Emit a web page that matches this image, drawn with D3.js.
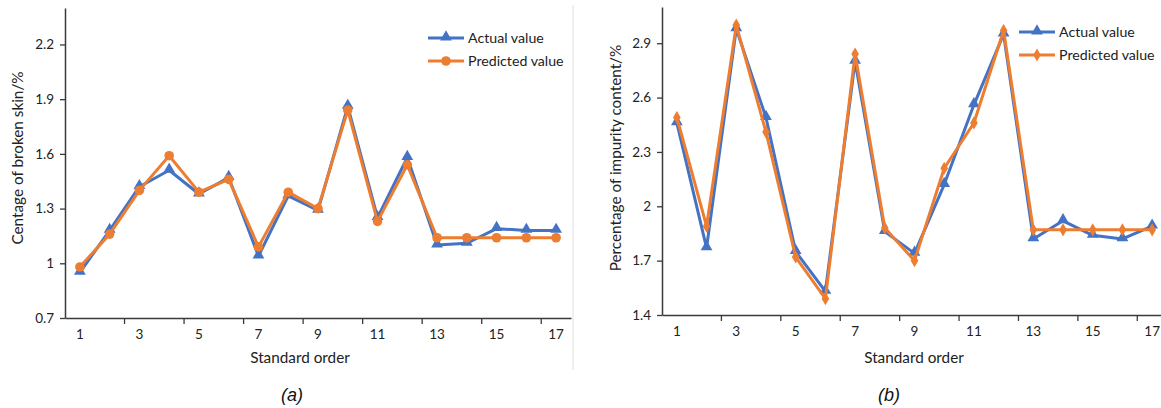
<!DOCTYPE html>
<html>
<head>
<meta charset="utf-8">
<script src="https://cdn.jsdelivr.net/npm/d3@7"></script>
<style>
  body { margin: 0; background: #fff; }
  svg { display: block; font-family: Lato, "Open Sans", sans-serif; }
</style>
</head>
<body>
<svg id="chart" width="1161" height="408"></svg>
<script>
// standard order 1..17
const orders = d3.range(1, 18);
const orderLabels = [1, 3, 5, 7, 9, 11, 13, 15, 17];

// (a) broken skin rate
const skinActual    = [0.95, 1.18, 1.42, 1.51, 1.38, 1.47, 1.04, 1.37, 1.29, 1.86, 1.25, 1.58, 1.10, 1.11, 1.19, 1.18, 1.18];
const skinPredicted = [0.98, 1.16, 1.40, 1.59, 1.39, 1.46, 1.09, 1.39, 1.30, 1.84, 1.23, 1.54, 1.14, 1.14, 1.14, 1.14, 1.14];
const skinTicks = [0.7, 1.0, 1.3, 1.6, 1.9, 2.2];

// (b) impurity content
const impActual    = [2.46, 1.77, 2.98, 2.49, 1.75, 1.53, 2.80, 1.86, 1.74, 2.12, 2.56, 2.95, 1.82, 1.92, 1.84, 1.82, 1.89];
const impPredicted = [2.49, 1.89, 3.00, 2.41, 1.72, 1.49, 2.84, 1.88, 1.70, 2.21, 2.46, 2.97, 1.87, 1.87, 1.87, 1.87, 1.87];
const impTicks = [1.4, 1.7, 2.0, 2.3, 2.6, 2.9];

const BLUE = '#4472c4', ORANGE = '#ed7d31', AXIS = '#3a3a3a', TEXT = '#222';

const svg = d3.select('#chart');

function marker(g, shape, color) {
  if (shape === 'circle') {
    g.append('circle').attr('r', 4.8).attr('fill', color);
  } else {
    const type = shape === 'triangle' ? d3.symbolTriangle : d3.symbolDiamond;
    const size = shape === 'triangle' ? 60 : 50;
    g.append('path').attr('d', d3.symbol().type(type).size(size)()).attr('fill', color)
      .attr('transform', shape === 'triangle' ? 'translate(0,-1)' : null);
  }
}

function drawChart(cfg) {
  const { left, right, top, bottom, domain, ticks, actual, predicted, predShape,
          yLabel, yLabelX, xLabelX, caption, captionX, legendX, legendY } = cfg;

  const x = d3.scaleBand().domain(orders).range([left, right]).padding(0);
  const y = d3.scaleLinear().domain(domain).range([bottom, top]);
  const g = svg.append('g');

  // y axis
  const yAxis = g.append('g').attr('transform', `translate(${left},0)`)
    .call(d3.axisLeft(y).tickValues(ticks).tickSize(5).tickSizeOuter(0).tickFormat(d => String(+d.toFixed(1))));
  yAxis.attr('font-family', null);
  yAxis.select('.domain').attr('stroke', AXIS).attr('stroke-width', 1.5);
  yAxis.selectAll('.tick line').attr('stroke', AXIS).attr('stroke-width', 1.3);
  yAxis.selectAll('.tick text').attr('fill', TEXT).attr('font-size', 13.5).attr('x', -11);

  // x axis: labels on odd orders, tick marks on every second category boundary
  const xAxis = g.append('g').attr('transform', `translate(0,${bottom})`)
    .call(d3.axisBottom(x).tickValues(orderLabels).tickSize(0).tickSizeOuter(0));
  xAxis.attr('font-family', null);
  xAxis.select('.domain').attr('stroke', AXIS).attr('stroke-width', 1.5);
  xAxis.selectAll('.tick text').attr('fill', TEXT).attr('font-size', 13.5).attr('y', 11).attr('dy', '0.71em');
  g.selectAll(null).data(orderLabels.slice(1)).enter().append('line')
    .attr('x1', d => x(d)).attr('x2', d => x(d))
    .attr('y1', bottom).attr('y2', bottom + 6)
    .attr('stroke', AXIS).attr('stroke-width', 1.3);

  g.append('text').attr('x', xLabelX).attr('y', 363)
    .attr('text-anchor', 'middle').attr('font-size', 15.3).attr('fill', TEXT).text('Standard order');
  g.append('text').attr('transform', `translate(${yLabelX},158) rotate(-90)`)
    .attr('text-anchor', 'middle').attr('font-size', 15.3).attr('fill', TEXT).text(yLabel);

  const line = d3.line().x((d, i) => x(orders[i]) + x.bandwidth() / 2).y(d => y(d));
  const series = [
    { name: 'Actual value', values: actual, color: BLUE, shape: 'triangle' },
    { name: 'Predicted value', values: predicted, color: ORANGE, shape: predShape }
  ];

  series.forEach(s => {
    g.append('path').datum(s.values).attr('d', line).attr('fill', 'none')
      .attr('stroke', s.color).attr('stroke-width', 3).attr('stroke-linejoin', 'round');
    g.selectAll(null).data(s.values).enter().append('g')
      .attr('transform', (d, i) => `translate(${x(orders[i]) + x.bandwidth() / 2},${y(d)})`)
      .each(function () { marker(d3.select(this), s.shape, s.color); });
  });

  // legend
  series.forEach((s, i) => {
    const ly = legendY + i * 23;
    const lg = g.append('g').attr('transform', `translate(${legendX},${ly})`);
    lg.append('line').attr('x1', 0).attr('x2', 36).attr('stroke', s.color).attr('stroke-width', 3);
    marker(lg.append('g').attr('transform', 'translate(18,0)'), s.shape, s.color);
    lg.append('text').attr('x', 40).attr('dy', '0.35em').attr('font-size', 14.2).attr('fill', TEXT).text(s.name);
  });

  svg.append('text').attr('x', captionX).attr('y', 401).attr('text-anchor', 'middle')
    .attr('font-family', '"Liberation Sans", Arial, sans-serif').attr('font-style', 'italic')
    .attr('font-size', 18).attr('fill', '#111').text(caption);
}

drawChart({
  left: 65, right: 571, top: 8, bottom: 318, domain: [0.7, 2.4], ticks: skinTicks,
  actual: skinActual, predicted: skinPredicted, predShape: 'circle',
  yLabel: 'Centage of broken skin/%', yLabelX: 23, xLabelX: 300,
  caption: '(a)', captionX: 292, legendX: 428, legendY: 38
});

drawChart({
  left: 662, right: 1167, top: 7, bottom: 315, domain: [1.4, 3.1], ticks: impTicks,
  actual: impActual, predicted: impPredicted, predShape: 'diamond',
  yLabel: 'Percentage of impurity content/%', yLabelX: 621, xLabelX: 914,
  caption: '(b)', captionX: 889, legendX: 1019, legendY: 32
});

// divider between panels
svg.append('line').attr('x1', 573).attr('x2', 573).attr('y1', 5).attr('y2', 370)
  .attr('stroke', '#e0e0e0').attr('stroke-width', 1);
</script>
</body>
</html>
